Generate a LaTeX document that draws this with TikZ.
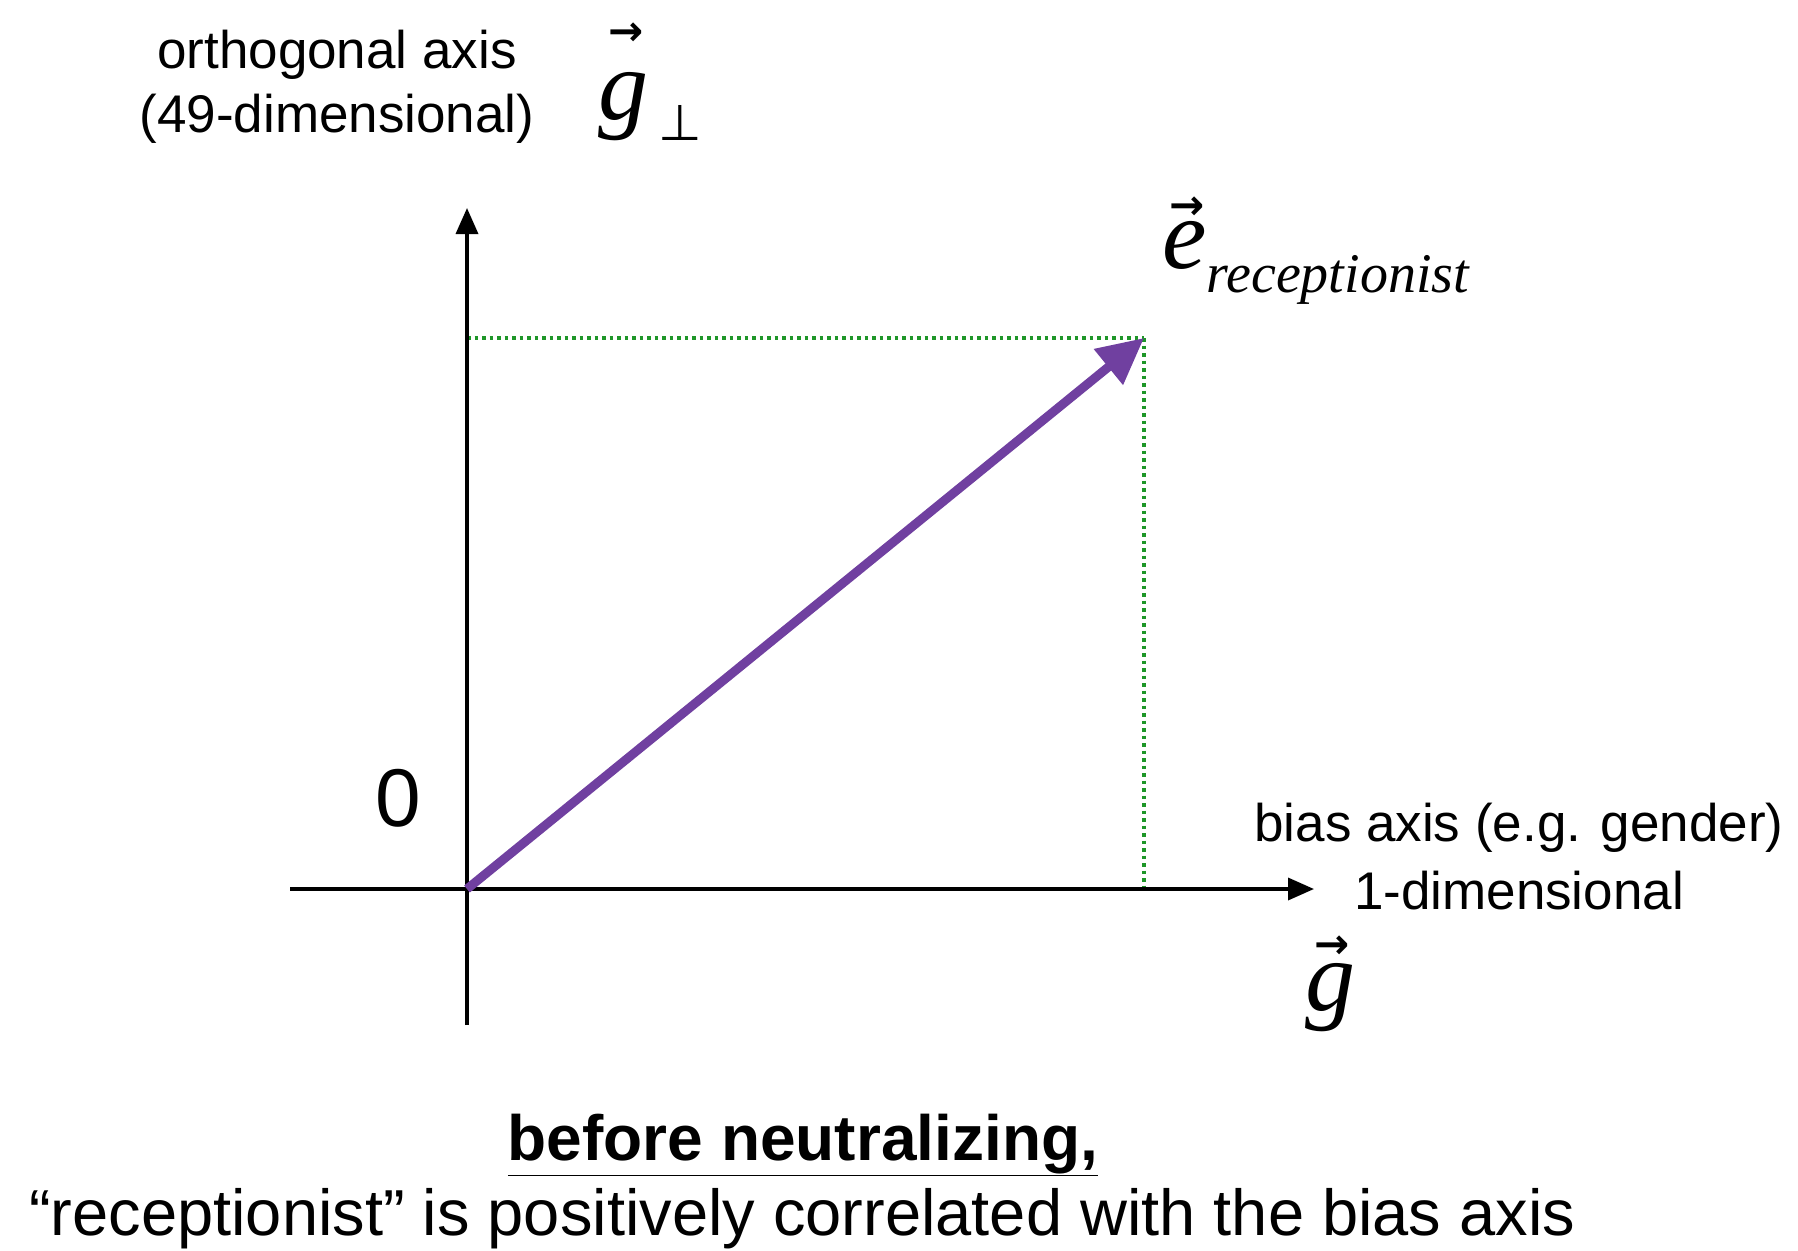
\documentclass[tikz,border=0pt]{standalone}
\usepackage{fontspec}
\usepackage{graphicx}
\setmainfont{Liberation Sans}
\newfontfamily\serifit{Liberation Serif}
\newfontfamily\dejavu{DejaVu Sans}
\usetikzlibrary{arrows.meta}
\definecolor{vpurple}{RGB}{112,64,160}
\definecolor{dotgreen}{RGB}{30,150,40}
% #1 letter, #2 raise of the arrow, #3 horizontal shift of the arrow
\newcommand{\vsym}[3]{\ooalign{\hidewidth\kern#3\raisebox{#2}{\fontsize{42}{42}\selectfont\dejavu\bfseries →}\hidewidth\cr{\serifit\itshape #1}\cr}}
\tikzset{
  axis/.style={line width=3.5pt, -{Triangle[length=26pt,width=22pt]}},
  lbl/.style={inner sep=0pt, font=\fontsize{53}{64}\selectfont, align=center},
  mathlbl/.style={inner sep=0pt, font=\fontsize{100}{100}\selectfont},
  guide/.style={dotgreen, line width=3.5pt, dash pattern=on 3.5pt off 4pt},
}
\begin{document}
\begin{tikzpicture}[x=1pt,y=-1pt]
\useasboundingbox (0,0) rectangle (1798,1250);
% coordinates
\coordinate (O) at (467,889);
\coordinate (ytop) at (467,208);
\coordinate (ybot) at (467,1025);
\coordinate (xleft) at (290,889);
\coordinate (xright) at (1314,889);
\coordinate (E) at (1144,338);
\coordinate (Ex) at (1144,889);
\coordinate (Ey) at (467,338);
% guides
\draw[guide] (Ey) -- (E);
\draw[guide] (E) -- (Ex);
% axes
\draw[axis] (ybot) -- (ytop);
\draw[axis] (xleft) -- (xright);
% vector
\draw[vpurple, line width=9pt, -{Triangle[length=46pt,width=44pt]}] (O) -- (E);
% labels
\node[lbl] (orth) at (337,87) {orthogonal axis\\(49-dimensional)};
\node[mathlbl, anchor=base west] (gperp) at (598,119) {\vsym{g}{74pt}{0.05em}\kern10pt\raisebox{-21pt}{\fontsize{50}{50}\selectfont\dejavu ⊥}};
\node[mathlbl, anchor=base west] (erec) at (1162,268) {\vsym{e}{49pt}{0.05em}\raisebox{-0.24em}{\fontsize{56}{56}\selectfont\serifit\itshape receptionist}};
\node[lbl] (bias) at (1519,828) {bias axis (e.g. gender)};
\node[lbl] (onedim) at (1519,891) {1-dimensional};
\node[mathlbl, anchor=base] (g) at (1330,1010) {\vsym{g}{52pt}{0.05em}};
\node[inner sep=0pt, font=\fontsize{82}{82}\selectfont] (zero) at (398,798) {0};
\node[inner sep=0pt, font=\fontsize{64}{64}\selectfont\bfseries] (title) at (803,1145) {\underline{before neutralizing,}};
\node[inner sep=0pt, font=\fontsize{65}{65}\selectfont, anchor=west] (caption) at (29,1219) {“receptionist” is positively correlated with the bias axis};
\end{tikzpicture}
\end{document}
